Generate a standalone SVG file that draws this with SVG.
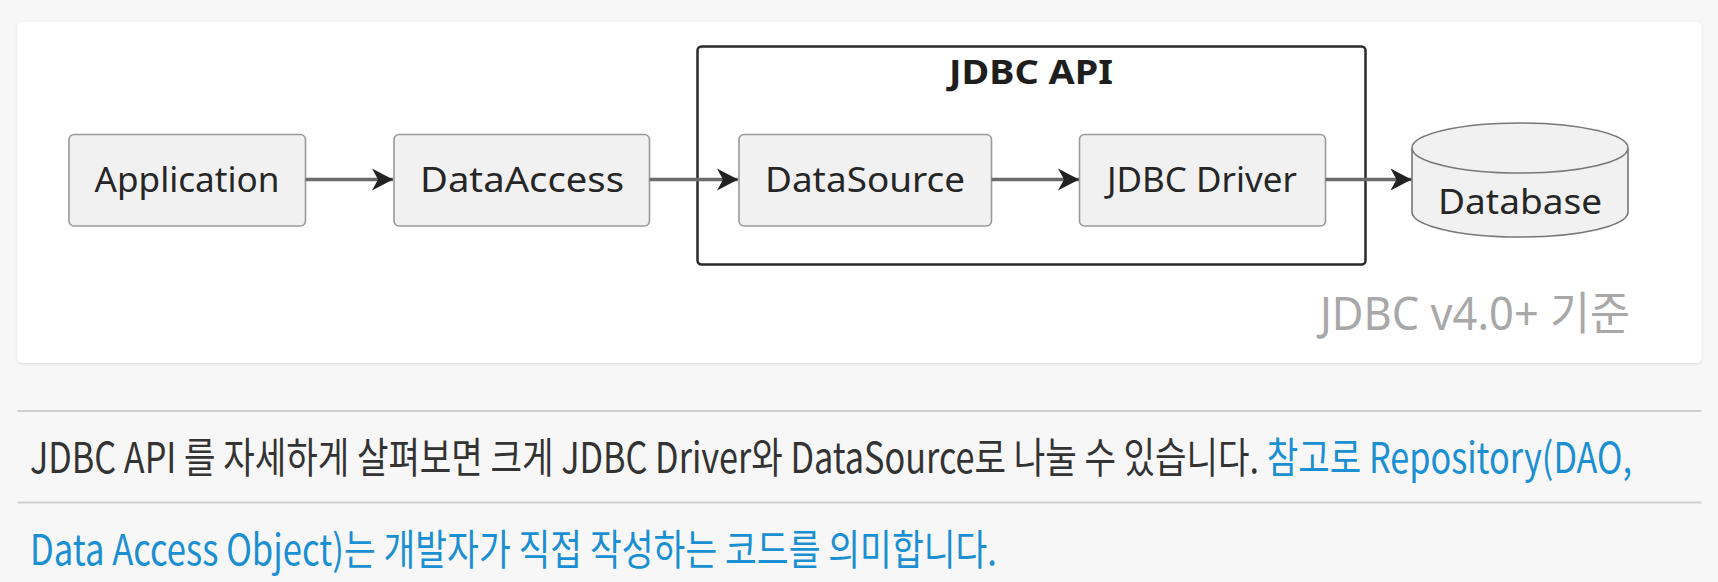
<svg xmlns="http://www.w3.org/2000/svg" width="1718" height="582" viewBox="0 0 1718 582">
<style>
.node{fill:#f1f1f1;stroke:#9a9a9a;stroke-width:1.6}
.lbl{font-family:"Noto Sans","Open Sans",sans-serif;font-size:35px;fill:#262626;text-anchor:middle}
.edge{stroke:#6a6a6a;stroke-width:3.5;fill:none}
.para{font-family:"Noto Sans CJK KR","Noto Sans",sans-serif;font-size:42px}
.dark{fill:#333}
.blue{fill:#1a8fd1}
</style>
<defs>
<filter id="sh" x="-5%" y="-5%" width="110%" height="115%">
<feDropShadow dx="0" dy="1" stdDeviation="1.5" flood-color="#000" flood-opacity="0.12"/>
</filter>
<marker id="arr" markerUnits="userSpaceOnUse" markerWidth="22" markerHeight="24" refX="21" refY="11" orient="auto" viewBox="0 0 22 22">
<path d="M0,0 L21,11 L0,22 L6,11 Z" fill="#222"/>
</marker>
</defs>
<rect width="1718" height="582" fill="#f7f7f7"/>
<rect x="17.5" y="22" width="1684" height="341" rx="5" fill="#fff" filter="url(#sh)"/>
<g id="jdbc-api">
<rect x="697.5" y="46.5" width="668" height="218" rx="4" fill="none" stroke="#2a2a2a" stroke-width="2.5"/>
<text x="1031" y="84" font-family="'Noto Sans','Open Sans',sans-serif" font-size="34" font-weight="bold" fill="#1e1e1e" text-anchor="middle" textLength="164" lengthAdjust="spacingAndGlyphs">JDBC API</text>
</g>
<g id="application">
<rect class="node" x="69" y="134.5" width="236.5" height="91.5" rx="5"/>
<text class="lbl" x="187" y="192" textLength="185" lengthAdjust="spacingAndGlyphs">Application</text>
</g>
<g id="dataaccess">
<rect class="node" x="394" y="134.5" width="255.5" height="91.5" rx="5"/>
<text class="lbl" x="522" y="192" textLength="204" lengthAdjust="spacingAndGlyphs">DataAccess</text>
</g>
<g id="datasource">
<rect class="node" x="739" y="134.5" width="252.5" height="91.5" rx="5"/>
<text class="lbl" x="865" y="192" textLength="200" lengthAdjust="spacingAndGlyphs">DataSource</text>
</g>
<g id="jdbc-driver">
<rect class="node" x="1079.5" y="134.5" width="246" height="91.5" rx="5"/>
<text class="lbl" x="1202" y="192" textLength="190" lengthAdjust="spacingAndGlyphs">JDBC Driver</text>
</g>
<g id="database">
<path d="M1412,148 V212 A108,25 0 0 0 1628,212 V148 A108,25 0 0 0 1412,148 A108,25 0 0 0 1628,148" fill="#f1f1f1" stroke="#777" stroke-width="1.6"/>
<text class="lbl" x="1520" y="214" textLength="164" lengthAdjust="spacingAndGlyphs">Database</text>
</g>
<g id="connectors">
<line class="edge" x1="305.5" y1="179.5" x2="393" y2="179.5" marker-end="url(#arr)"/>
<line class="edge" x1="649.5" y1="179.5" x2="738" y2="179.5" marker-end="url(#arr)"/>
<line class="edge" x1="991.5" y1="179.5" x2="1079" y2="179.5" marker-end="url(#arr)"/>
<line class="edge" x1="1325.5" y1="179.5" x2="1411.5" y2="179.5" marker-end="url(#arr)"/>
</g>
<text x="1320" y="330" font-family="'Noto Sans','Noto Sans CJK KR',sans-serif" font-size="45" fill="#a8a8a8" textLength="310" lengthAdjust="spacingAndGlyphs">JDBC v4.0+ 기준</text>
<line x1="17.5" y1="411" x2="1701.5" y2="411" stroke="#cfcfcf" stroke-width="2"/>
<line x1="17.5" y1="502.5" x2="1701.5" y2="502.5" stroke="#cfcfcf" stroke-width="2"/>
<text class="para" x="30" y="473" textLength="1602" lengthAdjust="spacingAndGlyphs"><tspan class="dark">JDBC API 를 자세하게 살펴보면 크게 JDBC Driver와 DataSource로 나눌 수 있습니다. </tspan><tspan class="blue">참고로 Repository(DAO,</tspan></text>
<text class="para blue" x="30" y="565" textLength="967" lengthAdjust="spacingAndGlyphs">Data Access Object)는 개발자가 직접 작성하는 코드를 의미합니다.</text>
</svg>
